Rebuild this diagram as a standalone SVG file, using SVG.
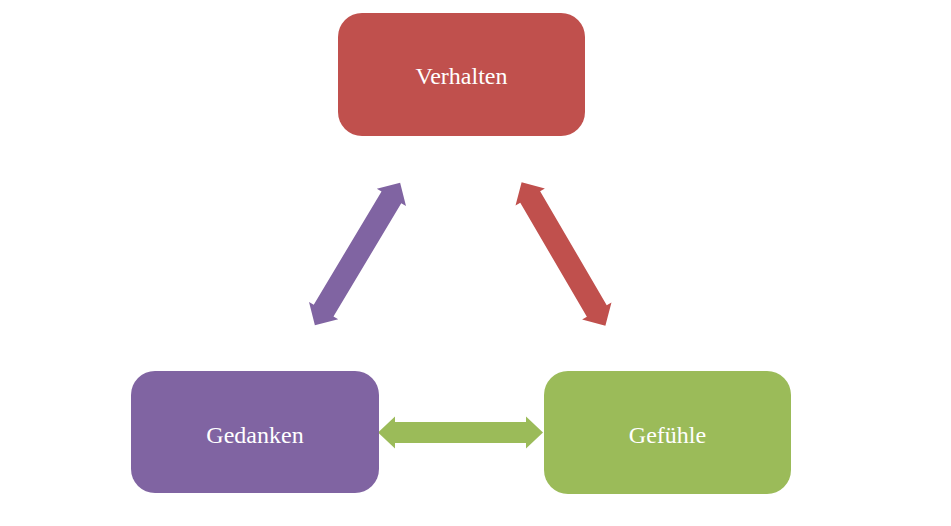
<svg xmlns="http://www.w3.org/2000/svg" width="951" height="526" viewBox="0 0 951 526">
<style>
.lbl{font-family:"Liberation Serif","Times New Roman",serif;font-size:24px;fill:#ffffff;text-anchor:middle}
</style>
<defs>
<path id="dbl" d="M-82.5,0 L-65.5,-16 L-65.5,-10.5 L65.5,-10.5 L65.5,-16 L82.5,0 L65.5,16 L65.5,10.5 L-65.5,10.5 L-65.5,16 Z"/>
<path id="dbld" d="M-83,0 L-66,-17 L-66,-11.5 L66,-11.5 L66,-17 L83,0 L66,17 L66,11.5 L-66,11.5 L-66,17 Z"/>
</defs>
<rect width="951" height="526" fill="#ffffff"/>
<g id="connectors">
<use href="#dbld" fill="#8064A2" transform="translate(357.5,254) rotate(-59.1)"/>
<use href="#dbld" fill="#C0504D" transform="translate(563.5,254) rotate(59.7)"/>
<use href="#dbl" fill="#9BBB59" transform="translate(460.5,432.5)"/>
</g>
<g id="verhalten">
<rect x="338" y="13" width="247" height="123" rx="24" fill="#C0504D"/>
<text class="lbl" x="461.5" y="84">Verhalten</text>
</g>
<g id="gedanken">
<rect x="131" y="371" width="248" height="122" rx="24" fill="#8064A2"/>
<text class="lbl" x="255" y="443">Gedanken</text>
</g>
<g id="gefuehle">
<rect x="544" y="371" width="247" height="123" rx="24" fill="#9BBB59"/>
<text class="lbl" x="667.5" y="443">Gefühle</text>
</g>
</svg>
